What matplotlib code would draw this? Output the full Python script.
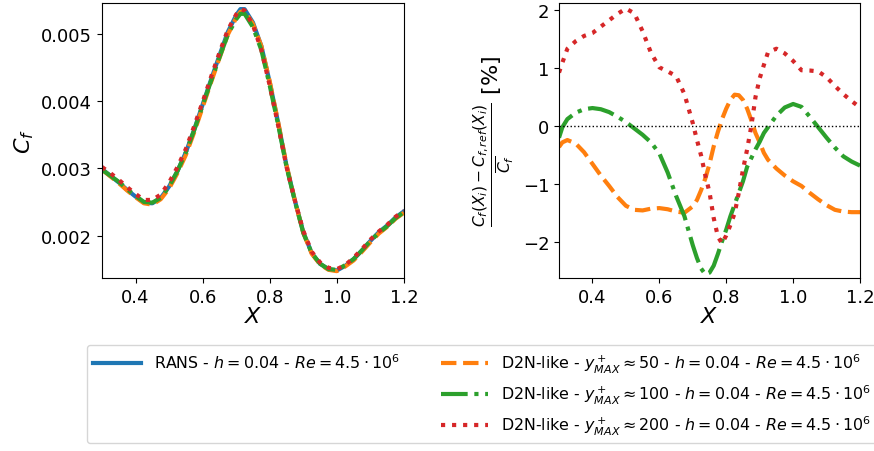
import numpy as np
import matplotlib.pyplot as plt
from matplotlib.lines import Line2D

# skin friction along the wall
x_cf = [0.30, 0.325, 0.35, 0.375, 0.40, 0.425, 0.45, 0.475, 0.50, 0.525, 0.55, 0.575,
        0.60, 0.625, 0.65, 0.675, 0.70, 0.7125, 0.725, 0.75, 0.775, 0.80, 0.825, 0.85,
        0.875, 0.90, 0.925, 0.95, 0.975, 1.00, 1.025, 1.05, 1.075, 1.10, 1.125, 1.15,
        1.175, 1.20]

cf_rans = [0.00299, 0.00289, 0.00279, 0.00268, 0.00258, 0.00249, 0.00248, 0.00256, 0.00273,
           0.00296, 0.00324, 0.00358, 0.00395, 0.00432, 0.00468, 0.00503, 0.00528, 0.00537,
           0.00537, 0.00517, 0.00482, 0.00428, 0.00368, 0.00304, 0.00252, 0.00205, 0.00174,
           0.00158, 0.00150, 0.00148, 0.00155, 0.00165, 0.00178, 0.00192, 0.00205, 0.00215,
           0.00227, 0.00236]

cf_50 = [0.00298, 0.00288, 0.00278, 0.00267, 0.00257, 0.00248, 0.00246, 0.00254, 0.00270,
         0.00293, 0.00320, 0.00354, 0.00391, 0.00428, 0.00464, 0.00499, 0.00524, 0.00533,
         0.00534, 0.00515, 0.00482, 0.00429, 0.00369, 0.00305, 0.00252, 0.00204, 0.00173,
         0.00157, 0.00149, 0.00147, 0.00154, 0.00163, 0.00176, 0.00190, 0.00203, 0.00213,
         0.00225, 0.00234]

cf_100 = [0.00298, 0.00289, 0.00280, 0.00269, 0.00259, 0.00250, 0.00249, 0.00256, 0.00273,
          0.00296, 0.00324, 0.00357, 0.00394, 0.00430, 0.00465, 0.00499, 0.00522, 0.00530,
          0.00530, 0.00510, 0.00476, 0.00423, 0.00365, 0.00302, 0.00251, 0.00204, 0.00174,
          0.00158, 0.00150, 0.00149, 0.00156, 0.00165, 0.00178, 0.00192, 0.00204, 0.00214,
          0.00226, 0.00235]

cf_200 = [0.00302, 0.00293, 0.00283, 0.00272, 0.00262, 0.00253, 0.00253, 0.00261, 0.00279,
          0.00302, 0.00329, 0.00363, 0.00399, 0.00436, 0.00472, 0.00506, 0.00529, 0.00537,
          0.00535, 0.00513, 0.00476, 0.00423, 0.00364, 0.00302, 0.00252, 0.00207, 0.00176,
          0.00160, 0.00152, 0.00150, 0.00156, 0.00167, 0.00180, 0.00194, 0.00206, 0.00216,
          0.00228, 0.00237]

# relative error [%]
x_err = [0.30, 0.31, 0.325, 0.35, 0.375, 0.40, 0.425, 0.45, 0.475, 0.50, 0.525, 0.55, 0.575,
         0.60, 0.625, 0.65, 0.675, 0.70, 0.7125, 0.725, 0.7375, 0.75, 0.7625, 0.775, 0.7875,
         0.80, 0.8125, 0.825, 0.8375, 0.85, 0.8625, 0.875, 0.8875, 0.90, 0.9125, 0.925, 0.95,
         0.975, 1.00, 1.025, 1.05, 1.075, 1.10, 1.125, 1.15, 1.175, 1.20]

err_50 = [-0.36, -0.28, -0.24, -0.30, -0.45, -0.65, -0.85, -1.03, -1.22, -1.37, -1.44, -1.45,
          -1.42, -1.41, -1.43, -1.47, -1.49, -1.38, -1.27, -1.10, -0.90, -0.65, -0.35, -0.10,
          0.12, 0.30, 0.45, 0.54, 0.53, 0.45, 0.30, 0.10, -0.12, -0.28, -0.46, -0.58, -0.73,
          -0.85, -0.95, -1.03, -1.15, -1.26, -1.36, -1.44, -1.47, -1.48, -1.48]

err_100 = [-0.20, -0.02, 0.12, 0.23, 0.29, 0.31, 0.29, 0.24, 0.16, 0.07, -0.04, -0.15, -0.28,
           -0.47, -0.80, -1.20, -1.55, -2.05, -2.27, -2.45, -2.55, -2.52, -2.40, -2.20, -1.98,
           -1.78, -1.55, -1.35, -1.15, -0.95, -0.70, -0.55, -0.40, -0.27, -0.12, -0.02, 0.18,
           0.32, 0.38, 0.33, 0.16, -0.02, -0.20, -0.37, -0.52, -0.61, -0.68]

err_200 = [0.92, 1.09, 1.33, 1.46, 1.55, 1.60, 1.71, 1.82, 1.93, 2.02, 1.94, 1.63, 1.26,
           1.01, 0.94, 0.86, 0.55, 0.05, -0.24, -0.51, -0.85, -1.14, -1.58, -1.90, -2.02,
           -1.88, -1.70, -1.50, -1.15, -0.75, -0.40, 0.00, 0.50, 0.82, 1.05, 1.27, 1.33,
           1.25, 1.12, 0.96, 0.955, 0.94, 0.84, 0.69, 0.55, 0.43, 0.32]

lab_rans = r'RANS - $h = 0.04$ - $Re = 4.5 \cdot 10^6$'
lab_50 = r'D2N-like - $y^+_{MAX} \approx 50$ - $h = 0.04$ - $Re = 4.5 \cdot 10^6$'
lab_100 = r'D2N-like - $y^+_{MAX} \approx 100$ - $h = 0.04$ - $Re = 4.5 \cdot 10^6$'
lab_200 = r'D2N-like - $y^+_{MAX} \approx 200$ - $h = 0.04$ - $Re = 4.5 \cdot 10^6$'

fig = plt.figure(figsize=(8.74, 4.52), dpi=100)

# Cf
ax1 = fig.add_axes([0.1167, 0.383, 0.3455, 0.608])
l0, = ax1.plot(x_cf, cf_rans, color='C0', lw=3, label=lab_rans)
l1, = ax1.plot(x_cf, cf_50, color='C1', lw=3, ls='--', label=lab_50)
l2, = ax1.plot(x_cf, cf_100, color='C2', lw=3, ls='-.', label=lab_100)
l3, = ax1.plot(x_cf, cf_200, color='C3', lw=3, ls=':', label=lab_200)
ax1.set_xlim(0.3, 1.2)
ax1.set_ylim(0.00137, 0.00546)
ax1.set_xticks([0.4, 0.6, 0.8, 1.0, 1.2])
ax1.set_yticks([0.002, 0.003, 0.004, 0.005])
ax1.set_xlabel(r'$X$', fontsize=16, labelpad=0)
ax1.set_ylabel(r'$C_f$', fontsize=16)
ax1.tick_params(labelsize=13)

# errore
ax2 = fig.add_axes([0.6396, 0.383, 0.3444, 0.608])
ax2.plot(x_err, err_50, color='C1', lw=3, ls='--')
ax2.plot(x_err, err_100, color='C2', lw=3, ls='-.')
ax2.plot(x_err, err_200, color='C3', lw=3, ls=':')
ax2.axhline(0, color='k', lw=1, ls=':')
ax2.set_xlim(0.3, 1.2)
ax2.set_ylim(-2.61, 2.115)
ax2.set_xticks([0.4, 0.6, 0.8, 1.0, 1.2])
ax2.set_yticks([-2, -1, 0, 1, 2])
ax2.set_xlabel(r'$X$', fontsize=16, labelpad=0)
ax2.set_ylabel(r'$\frac{C_f(X_i) - C_{f,ref}(X_i)}{\overline{C_f}}$ [%]', fontsize=16)
ax2.tick_params(labelsize=13)

vuoto = Line2D([], [], color='none')
fig.legend([l0, vuoto, vuoto, l1, l2, l3], [lab_rans, '', '', lab_50, lab_100, lab_200],
           ncol=2, loc='upper center', bbox_to_anchor=(0.5515, 0.245), fontsize=11.4,
           handlelength=3, columnspacing=2.6, borderaxespad=0.3)

fig.savefig('out.png', dpi=100)
